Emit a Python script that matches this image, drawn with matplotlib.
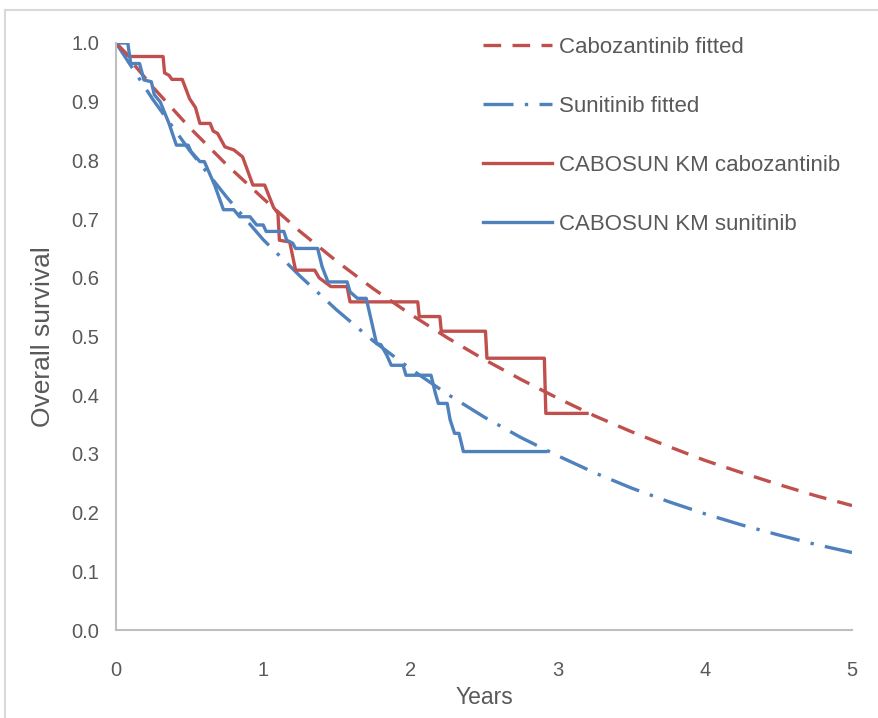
import matplotlib
matplotlib.use("Agg")
import matplotlib.pyplot as plt
from matplotlib.lines import Line2D

# Fitted curves at quarter-year steps
fit_years = [0, 0.25, 0.5, 0.75, 1.0, 1.25, 1.5, 1.75, 2.0, 2.25, 2.5,
             2.75, 3.0, 3.25, 3.5, 3.75, 4.0, 4.25, 4.5, 4.75, 5.0]
cabo_fit = [1.0, 0.925, 0.856, 0.793, 0.735, 0.679, 0.628, 0.581, 0.538, 0.498, 0.461,
            0.427, 0.395, 0.365, 0.338, 0.313, 0.289, 0.268, 0.248, 0.229, 0.212]
suni_fit = [1.0, 0.904, 0.817, 0.738, 0.665, 0.603, 0.545, 0.492, 0.445, 0.402, 0.363,
            0.328, 0.297, 0.268, 0.242, 0.219, 0.198, 0.179, 0.162, 0.146, 0.132]

# Kaplan-Meier curves (vertices as digitised)
cabo_km_t = [0, 0.09, 0.32, 0.33, 0.36, 0.38, 0.45, 0.50, 0.54, 0.57, 0.64, 0.66, 0.69,
             0.74, 0.80, 0.86, 0.93, 1.01, 1.07, 1.10, 1.11, 1.18, 1.22, 1.35, 1.38,
             1.46, 1.57, 1.59, 2.05, 2.06, 2.20, 2.21, 2.51, 2.52, 2.91, 2.92, 3.20]
cabo_km_s = [1.0, 0.977, 0.977, 0.949, 0.945, 0.938, 0.938, 0.905, 0.89, 0.863, 0.863, 0.85, 0.846,
             0.823, 0.818, 0.806, 0.758, 0.758, 0.72, 0.71, 0.664, 0.661, 0.613, 0.613, 0.60,
             0.585, 0.585, 0.559, 0.559, 0.534, 0.534, 0.509, 0.509, 0.463, 0.463, 0.369, 0.369]

suni_km_t = [0, 0.08, 0.10, 0.16, 0.19, 0.24, 0.26, 0.30, 0.36, 0.41, 0.49, 0.51, 0.57, 0.60,
             0.67, 0.73, 0.80, 0.84, 0.91, 0.955, 1.0, 1.02, 1.14, 1.16, 1.20, 1.22, 1.37,
             1.40, 1.44, 1.57, 1.59, 1.64, 1.70, 1.77, 1.80, 1.84, 1.87, 1.95, 1.97, 2.14,
             2.17, 2.19, 2.25, 2.27, 2.30, 2.33, 2.36, 2.92]
suni_km_s = [1.0, 1.0, 0.965, 0.965, 0.937, 0.934, 0.912, 0.90, 0.863, 0.826, 0.826, 0.815, 0.798, 0.798,
             0.758, 0.716, 0.716, 0.704, 0.704, 0.69, 0.69, 0.679, 0.679, 0.664, 0.659, 0.65, 0.65,
             0.619, 0.593, 0.593, 0.576, 0.565, 0.565, 0.488, 0.486, 0.468, 0.451, 0.451, 0.434, 0.434,
             0.403, 0.386, 0.386, 0.358, 0.335, 0.335, 0.304, 0.304]

RED = "#C0504D"
BLUE = "#4F81BD"
GREY_TXT = "#595959"

plt.rcParams['font.family'] = ['Liberation Sans', 'DejaVu Sans']

fig = plt.figure(figsize=(8.79, 7.18), dpi=100)
ax = fig.add_axes([116 / 879, 1 - 630 / 718, (852 - 116) / 879, (630 - 43) / 718])

lw = 2.4
ax.plot(fit_years, cabo_fit, color=RED, lw=lw, dashes=(5.3, 3.4), label="Cabozantinib fitted")
ax.plot(fit_years, suni_fit, color=BLUE, lw=lw, dashes=(9, 3.4, 1, 3.4), label="Sunitinib fitted")
ax.plot(cabo_km_t, cabo_km_s, color=RED, lw=lw, label="CABOSUN KM cabozantinib")
ax.plot(suni_km_t, suni_km_s, color=BLUE, lw=lw, label="CABOSUN KM sunitinib")

ax.set_xlim(0, 5)
ax.set_ylim(0, 1.0)
ax.set_xticks([0, 1, 2, 3, 4, 5])
ax.set_yticks([i / 10 for i in range(11)])
ax.set_yticklabels([f"{i / 10:.1f}" for i in range(11)])
ax.tick_params(axis="both", length=0, labelsize=14.5, labelcolor=GREY_TXT)
ax.tick_params(axis="x", pad=22)
ax.tick_params(axis="y", pad=12)
for side in ["top", "right"]:
    ax.spines[side].set_visible(False)
for side in ["left", "bottom"]:
    ax.spines[side].set_color("#BFBFBF")
    ax.spines[side].set_linewidth(1.5)

ax.set_xlabel("Years", fontsize=16.5, color=GREY_TXT, labelpad=5)
ax.set_ylabel("Overall survival", fontsize=19, color=GREY_TXT, labelpad=12)

leg = ax.legend(loc="upper left", bbox_to_anchor=(0.472, 1.045), frameon=False,
                fontsize=16, labelcolor=GREY_TXT, handlelength=3.1, handletextpad=0.3,
                labelspacing=1.72)

# chart-area border (top and left edges visible)
fig.add_artist(Line2D([5 / 879, 5 / 879], [0, 1 - 10 / 718], color="#D9D9D9", lw=1.5))
fig.add_artist(Line2D([5 / 879, 1], [1 - 10 / 718, 1 - 10 / 718], color="#D9D9D9", lw=1.5))

fig.savefig("out.png", dpi=100)
